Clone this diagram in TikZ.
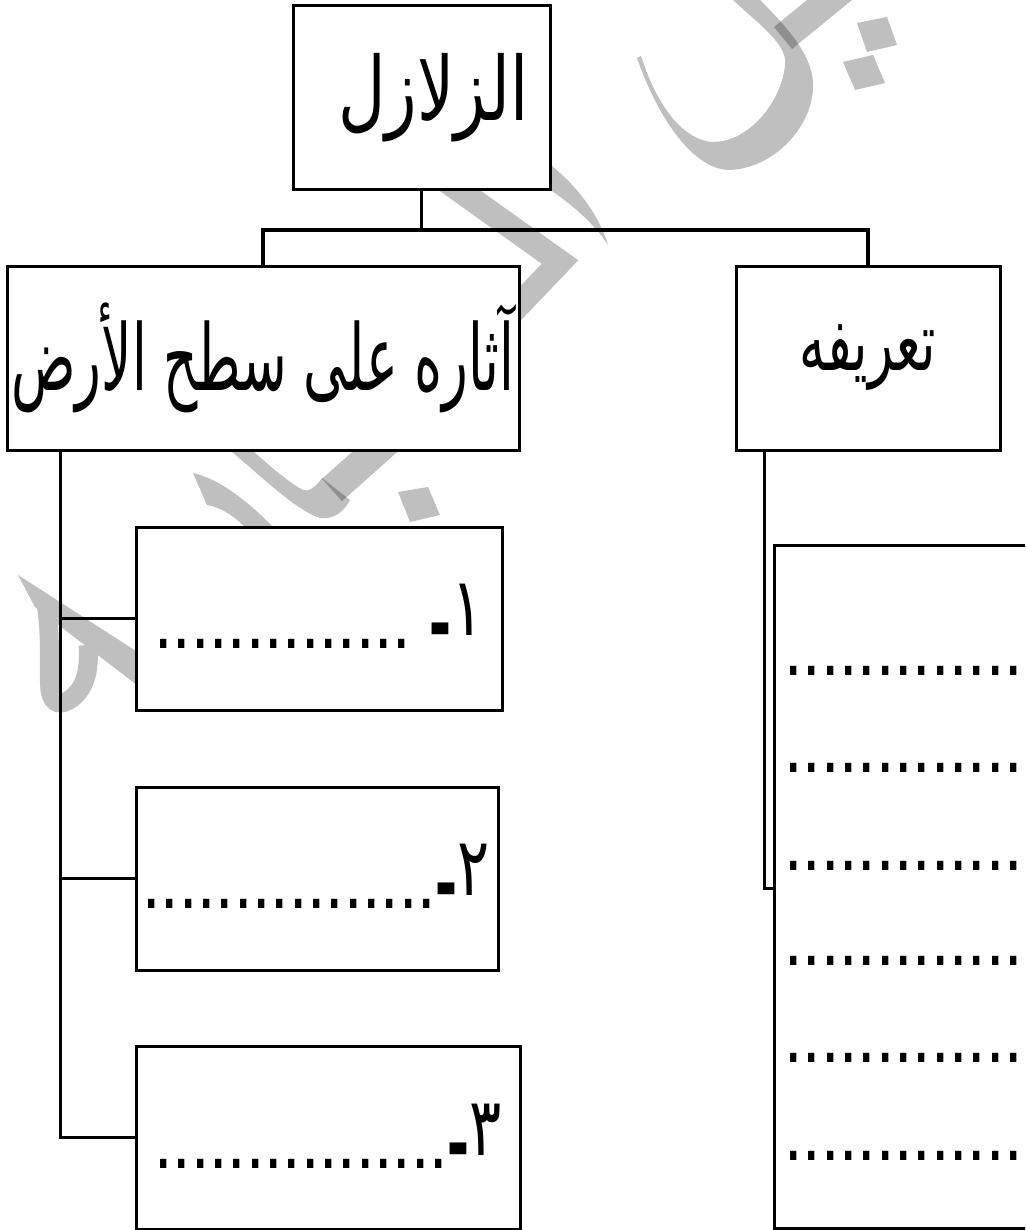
\documentclass[tikz,border=0pt]{standalone}
\usepackage{fontspec}
\setmainfont{Liberation Sans}
\newfontfamily\arabicfont[Script=Arabic]{DejaVu Sans}
\TeXXeTstate=1
\definecolor{wmgray}{HTML}{BFBFBF}
\tikzset{
  boxn/.style={draw, line width=1.5pt, fill=white, inner sep=0pt, rectangle},
  conn/.style={line width=1.5pt},
  head/.style={font=\arabicfont\fontsize{34}{40}\selectfont},
  dotline/.style={font=\fontsize{33}{40}\selectfont, inner sep=0pt, anchor=base west},
  wm/.style={fill=wmgray},
  wmo/.style={fill=black, fill opacity=0.25},
  wmline/.style={draw=wmgray},
}
\newcommand{\numeral}[1]{\raisebox{6.5pt}{\scalebox{1}[1.35]{\arabicfont\fontsize{30}{36}\selectfont #1}}}
\newcommand{\dotrun}[1]{\scalebox{1}[1.3]{#1}}
\newcommand{\dash}{\raisebox{-3pt}{\scalebox{1}[1.5]{\bfseries -}}}
\begin{document}
\begin{tikzpicture}[x=0.5pt,y=-0.5pt]
\clip (0,0) rectangle (1025,1230);
\fill[white] (0,0) rectangle (1025,1230);
% ---------- watermark ----------
\fill[wm] (637,58) .. controls (655,110) and (690,170) .. (730,170)
  .. controls (775,168) and (815,125) .. (813,82)
  .. controls (811,55) and (790,30) .. (760,0) -- (733,0)
  .. controls (760,25) and (788,45) .. (785,65)
  .. controls (782,100) and (750,142) .. (713,142)
  .. controls (680,140) and (655,100) .. (641,56) -- cycle;
\fill[wmo] (774,27) -- (807,0) -- (852,0) -- (792,49) -- cycle;
\fill[wm] (857,23) -- (887,17) -- (897,45) -- (867,52) -- cycle;
\fill[wm] (843,62) -- (873,55) -- (885,83) -- (855,90) -- cycle;
\fill[wm] (510,135) -- (552,166) .. controls (575,185) and (598,212) .. (608,245)
  .. controls (595,225) and (575,207) .. (552,191) -- (510,160) -- cycle;
\draw[wmline, line width=12pt, miter limit=10] (445,180) -- (560,262) -- (495,330);
\fill[wm] (218,440) .. controls (260,475) and (295,510) .. (320,518)
  .. controls (335,520) and (345,510) .. (350,500) -- (322,478)
  .. controls (315,488) and (308,492) .. (303,490)
  .. controls (285,480) and (265,462) .. (241,440) -- cycle;
\draw[draw=black, draw opacity=0.25, line width=15pt] (332,490) -- (405,425);
\fill[wm] (193,473) .. controls (215,478) and (245,495) .. (290,545) -- (262,545)
  .. controls (240,520) and (225,508) .. (207,505) -- cycle;
\fill[wm] (398,492) -- (428,487) -- (440,515) -- (410,522) -- cycle;
\fill[wm] (18,575) -- (150,660) -- (150,695) -- (35,607) -- cycle;
\draw[wmline, line width=9.5pt] (45,600) .. controls (52,630) and (48,670) .. (50,690)
  .. controls (52,705) and (62,706) .. (72,698)
  .. controls (85,688) and (90,670) .. (88,645);
% ---------- boxes ----------
\node[boxn, minimum width=128.5pt, minimum height=92pt, head] (root) at (421.5,98)
  {\hspace*{12pt}\scalebox{0.96}[1.3]{\beginR الزلازل\endR}};
\node[boxn, minimum width=256pt, minimum height=92pt, head] (effects) at (263,358)
  {\scalebox{0.785}[1.35]{\beginR آثاره على سطح الأرض\endR}};
\node[boxn, minimum width=132pt, minimum height=92pt, head] (defn) at (868,358)
  {\scalebox{0.76}[1.2]{\beginR تعريفه\endR}};
\node[boxn, minimum width=183pt, minimum height=91.5pt] (e1) at (319,618.5) {};
\node[boxn, minimum width=181pt, minimum height=91.5pt] (e2) at (317,878.5) {};
\node[boxn, minimum width=192pt, minimum height=91.5pt] (e3) at (328,1137.5) {};
\node[boxn, minimum width=143pt, minimum height=341.5pt] (dbox) at (917,886.5) {};
% ---------- connectors ----------
\coordinate (bar) at (0,230);
\coordinate (sl) at (60,0);
\coordinate (sr) at (764,0);
\coordinate (rj) at (774,888);
\draw[conn] (root.south) -- (root.south |- bar);
\draw[conn, line width=2.2pt] (effects.north) -- (effects.north |- bar) -- (defn.north |- bar) -- (defn.north);
\draw[conn] (effects.south -| sl) |- (e3.west);
\draw[conn] (e1.west) -- (e1.west -| sl);
\draw[conn] (e2.west) -- (e2.west -| sl);
\draw[conn] (defn.south -| sr) |- (rj);
% ---------- texts (visual order, right to left: numeral, hyphen, dots) ----------
\node[dotline] (t1) at (154,648) {\dotrun{..............}\ \dash\numeral{١}};
\node[dotline] (t2) at (142,908) {\dotrun{................}\dash\numeral{٢}};
\node[dotline] (t3) at (154,1168) {\dotrun{................}\dash\numeral{٣}};
\node[dotline] (d1) at (784,675) {\dotrun{.............}};
\node[dotline] (d2) at (784,772) {\dotrun{.............}};
\node[dotline] (d3) at (784,870) {\dotrun{.............}};
\node[dotline] (d4) at (784,965) {\dotrun{.............}};
\node[dotline] (d5) at (784,1062) {\dotrun{.............}};
\node[dotline] (d6) at (784,1160) {\dotrun{.............}};
\end{tikzpicture}
\end{document}
